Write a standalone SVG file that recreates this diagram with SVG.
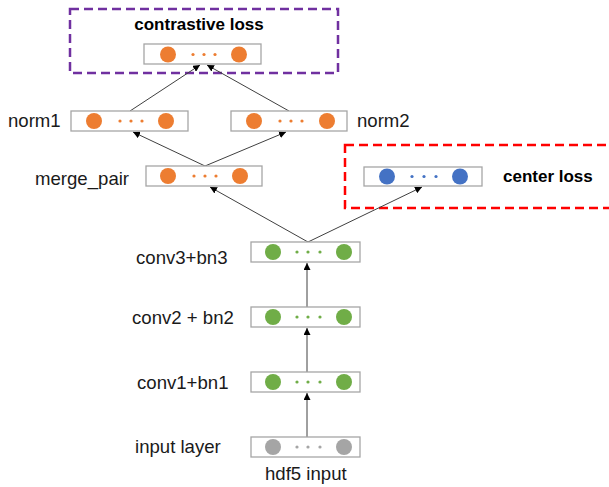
<svg xmlns="http://www.w3.org/2000/svg" width="609" height="487" viewBox="0 0 609 487">
<style>
.box{fill:#fff;stroke:#a6a6a6;stroke-width:1.3}
.lbl{font-family:"Liberation Sans",Arial,sans-serif;font-size:18.6px;fill:#1a1a1a}
.ttl{font-family:"Liberation Sans",Arial,sans-serif;font-size:17px;font-weight:bold;fill:#000}
.or{fill:#ED7D31}.gr{fill:#70AD47}.bl{fill:#4472C4}.gy{fill:#A5A5A5}
.conn line{stroke:#404040;stroke-width:1}
</style>
<defs>
<marker id="ah" viewBox="0 0 10 10" refX="10" refY="5" markerWidth="7" markerHeight="7" markerUnits="userSpaceOnUse" orient="auto"><path d="M0,0 L10,5 L0,10 z" fill="#000"/></marker>
</defs>
<rect x="70" y="9" width="268" height="64" fill="none" stroke="#7030A0" stroke-width="2.5" stroke-dasharray="9,5"/>
<rect x="345" y="145" width="270" height="63" fill="none" stroke="#FF0000" stroke-width="2.5" stroke-dasharray="9,5"/>
<text class="ttl" x="199" y="30" text-anchor="middle">contrastive loss</text>
<text class="ttl" x="503" y="182">center loss</text>
<g class="conn">
<line x1="307" y1="437" x2="307" y2="393" marker-end="url(#ah)"/>
<line x1="307" y1="372" x2="307" y2="328" marker-end="url(#ah)"/>
<line x1="307" y1="307" x2="307" y2="263" marker-end="url(#ah)"/>
<line x1="308" y1="242" x2="210" y2="187" marker-end="url(#ah)"/>
<line x1="308" y1="242" x2="422" y2="187" marker-end="url(#ah)"/>
<line x1="205" y1="166" x2="133" y2="132" marker-end="url(#ah)"/>
<line x1="205" y1="166" x2="286" y2="132" marker-end="url(#ah)"/>
<line x1="130" y1="111" x2="200" y2="65" marker-end="url(#ah)"/>
<line x1="289" y1="111" x2="207" y2="65" marker-end="url(#ah)"/>
</g>
<g id="contrastive">
<rect class="box" x="144" y="44" width="117" height="20"/>
<circle class="or" cx="168" cy="54.5" r="8"/><circle class="or" cx="239" cy="54.5" r="8"/>
<circle class="or" cx="193" cy="54.5" r="1.6"/><circle class="or" cx="204" cy="54.5" r="1.6"/><circle class="or" cx="215" cy="54.5" r="1.6"/>
</g>
<g id="norm1">
<text class="lbl" x="8" y="127">norm1</text>
<rect class="box" x="71" y="111" width="117" height="20"/>
<circle class="or" cx="94" cy="121" r="8"/><circle class="or" cx="166" cy="121" r="8"/>
<circle class="or" cx="120" cy="121" r="1.6"/><circle class="or" cx="131" cy="121" r="1.6"/><circle class="or" cx="142" cy="121" r="1.6"/>
</g>
<g id="norm2">
<text class="lbl" x="357" y="127">norm2</text>
<rect class="box" x="231" y="111" width="116" height="20"/>
<circle class="or" cx="254" cy="121" r="8"/><circle class="or" cx="327" cy="121" r="8"/>
<circle class="or" cx="280" cy="121" r="1.6"/><circle class="or" cx="291" cy="121" r="1.6"/><circle class="or" cx="302" cy="121" r="1.6"/>
</g>
<g id="merge_pair">
<text class="lbl" x="35" y="185">merge_pair</text>
<rect class="box" x="146" y="166" width="116" height="20"/>
<circle class="or" cx="168" cy="176" r="8"/><circle class="or" cx="240" cy="176" r="8"/>
<circle class="or" cx="194" cy="176" r="1.6"/><circle class="or" cx="205" cy="176" r="1.6"/><circle class="or" cx="216" cy="176" r="1.6"/>
</g>
<g id="center">
<rect class="box" x="364" y="167" width="118" height="19"/>
<circle class="bl" cx="387" cy="176.5" r="8"/><circle class="bl" cx="460" cy="176.5" r="8"/>
<circle class="bl" cx="412" cy="176.5" r="1.6"/><circle class="bl" cx="424" cy="176.5" r="1.6"/><circle class="bl" cx="436" cy="176.5" r="1.6"/>
</g>
<g id="conv3">
<text class="lbl" x="136" y="264">conv3+bn3</text>
<rect class="box" x="251" y="242" width="109" height="20"/>
<circle class="gr" cx="273" cy="252" r="8"/><circle class="gr" cx="344" cy="252" r="8"/>
<circle class="gr" cx="297" cy="252" r="1.6"/><circle class="gr" cx="308" cy="252" r="1.6"/><circle class="gr" cx="320" cy="252" r="1.6"/>
</g>
<g id="conv2">
<text class="lbl" x="132" y="324">conv2 + bn2</text>
<rect class="box" x="251" y="307" width="109" height="20"/>
<circle class="gr" cx="273" cy="317" r="8"/><circle class="gr" cx="344" cy="317" r="8"/>
<circle class="gr" cx="297" cy="317" r="1.6"/><circle class="gr" cx="308" cy="317" r="1.6"/><circle class="gr" cx="320" cy="317" r="1.6"/>
</g>
<g id="conv1">
<text class="lbl" x="137" y="389">conv1+bn1</text>
<rect class="box" x="251" y="372" width="109" height="20"/>
<circle class="gr" cx="273" cy="382" r="8"/><circle class="gr" cx="344" cy="382" r="8"/>
<circle class="gr" cx="297" cy="382" r="1.6"/><circle class="gr" cx="308" cy="382" r="1.6"/><circle class="gr" cx="320" cy="382" r="1.6"/>
</g>
<g id="input">
<text class="lbl" x="135" y="453">input layer</text>
<rect class="box" x="251" y="437" width="109" height="20"/>
<circle class="gy" cx="273" cy="447" r="8"/><circle class="gy" cx="344" cy="447" r="8"/>
<circle class="gy" cx="297" cy="447" r="1.6"/><circle class="gy" cx="308" cy="447" r="1.6"/><circle class="gy" cx="320" cy="447" r="1.6"/>
<text class="lbl" x="265" y="480">hdf5 input</text>
</g>
</svg>
